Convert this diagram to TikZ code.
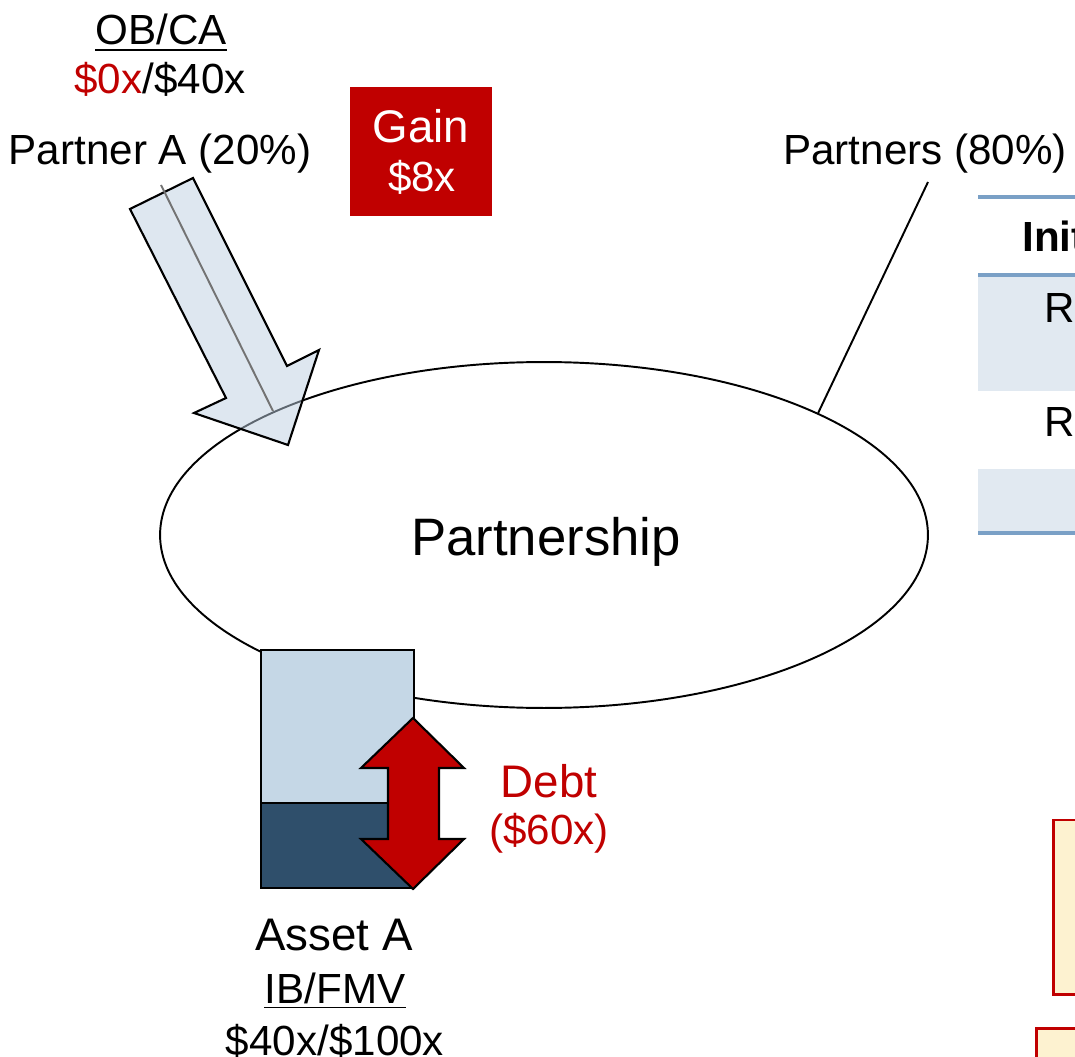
\documentclass[tikz,border=0pt]{standalone}
\usepackage{fontspec}
\setmainfont{Liberation Sans}
\usetikzlibrary{shapes.geometric}
\definecolor{darkred}{RGB}{192,0,0}
\definecolor{arrowblue}{RGB}{189,207,225}
\definecolor{assetlight}{RGB}{197,215,230}
\definecolor{assetdark}{RGB}{47,79,107}
\definecolor{tableline}{RGB}{122,160,198}
\definecolor{tablerow}{RGB}{225,233,241}
\definecolor{noteyellow}{RGB}{253,242,208}
\tikzset{
    txt/.style={font=\fontsize{24}{28}\selectfont, inner sep=0pt, anchor=base},
    outline/.style={draw=black, line width=1.2pt},
    uline/.style={line width=1.1pt},
}
\begin{document}
\begin{tikzpicture}[x=0.02cm,y=-0.02cm]
    \useasboundingbox (0,0) rectangle (1075,1057);
    \clip (0,0) rectangle (1075,1057);
    % table on the right
    \fill[tablerow] (978,275) rectangle (1075,391);
    \fill[tablerow] (978,469) rectangle (1075,533);
    \draw[tableline, line width=1.8pt] (978,197) -- (1075,197);
    \draw[tableline, line width=1.8pt] (978,275) -- (1075,275);
    \draw[tableline, line width=1.8pt] (978,533) -- (1075,533);
    \node[txt, anchor=base west, font=\fontsize{24}{28}\selectfont\bfseries] (head) at (1022,252) {Init};
    \node[txt, anchor=base west] (rowa) at (1044,323) {Re};
    \node[txt, anchor=base west] (rowb) at (1044,437) {Re};
    % notes
    \draw[darkred, fill=noteyellow, line width=1.7pt] (1053,820) rectangle (1090,994);
    \draw[darkred, fill=noteyellow, line width=1.7pt] (1036,1028) rectangle (1090,1070);
    % partnership
    \node[ellipse, draw, line width=1.1pt, minimum width=15.36cm, minimum height=6.92cm, inner sep=0pt] (pship) at (544,535) {};
    \node[txt, font=\fontsize{30}{36}\selectfont] (pshiptxt) at (546,555) {Partnership};
    % asset
    \draw[outline, fill=assetlight] (261,650) rectangle (414,803);
    \draw[outline, fill=assetdark] (261,803) rectangle (414,888);
    \draw[outline, fill=darkred] (413,718) -- (464,768) -- (439,768) -- (439,839) -- (464,839)
        -- (413,889) -- (361,839) -- (388,839) -- (388,768) -- (361,768) -- cycle;
    \node[txt, text=darkred, font=\fontsize{26}{30}\selectfont] (debt) at (549,797) {Debt};
    \node[txt, text=darkred] (debtval) at (549,844) {(\$60x)};
    \node[txt, font=\fontsize{26}{30}\selectfont] (asset) at (334,950) {Asset A};
    \node[txt] (ibfmv) at (335,1003) {IB/FMV};
    \draw[uline] ([yshift=-0.09cm]ibfmv.base west) -- ([yshift=-0.09cm]ibfmv.base east);
    \node[txt] (assetval) at (335,1055) {\$40x/\$100x};
    % partner A
    \node[txt] (obca) at (161,45) {OB/CA};
    \draw[uline] ([yshift=-0.1cm]obca.base west) -- ([yshift=-0.1cm]obca.base east);
    \node[txt] (basis) at (160,94) {{\color{darkred}\$0x}/\$40x};
    \node[txt] (partnera) at (160,165) {Partner A (20\%)};
    \draw[line width=1.2pt, fill=arrowblue, fill opacity=0.5] (130,209) -- (193,178) -- (287,366) -- (319,350)
        -- (288,445) -- (194,413) -- (226,398) -- cycle;
    \draw[line width=1.1pt, black!55] (161,185) -- (273,411);
    % gain
    \node[fill=darkred, minimum width=2.84cm, minimum height=2.58cm, inner sep=0pt] (gainbox) at (421,151.5) {};
    \node[txt, text=white, font=\fontsize{26}{30}\selectfont] (gain) at (421,143) {Gain};
    \node[txt, text=white] (gainval) at (422,192) {\$8x};
    % other partners
    \node[txt] (partners) at (925,165) {Partners (80\%)};
    \coordinate (ptop) at (928,182);
    \draw[line width=1.1pt] (ptop) -- (pship.24);
\end{tikzpicture}
\end{document}
